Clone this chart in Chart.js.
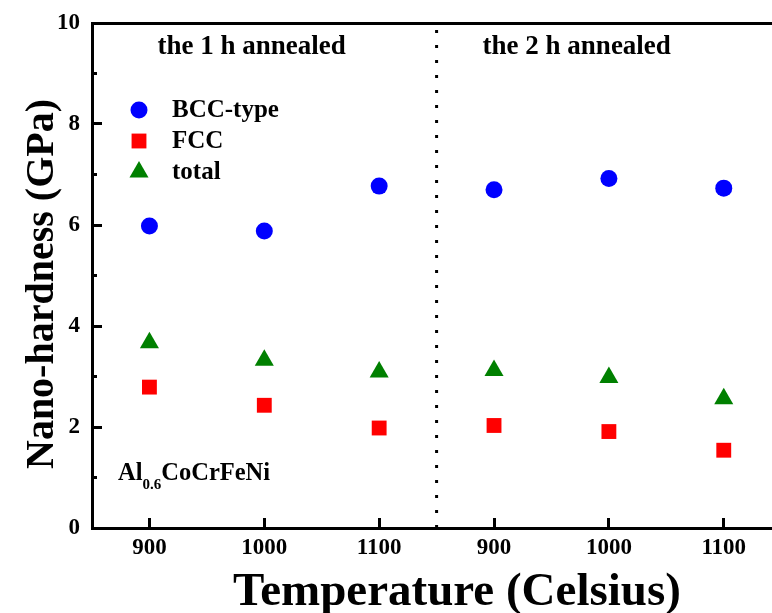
<!DOCTYPE html>
<html>
<head>
<meta charset="utf-8">
<title>Nano-hardness Al0.6CoCrFeNi</title>
<script src="https://cdn.jsdelivr.net/npm/chart.js@4.4.1/dist/chart.umd.min.js"></script>
<style>
  html, body { margin: 0; padding: 0; background: #fff; overflow: hidden; }
  #wrap { width: 772px; height: 613px; }
</style>
</head>
<body>
<div id="wrap"><canvas id="hardness" width="772" height="613"></canvas></div>
<script>
// --- Données ---
const temperatures = ['900', '1000', '1100', '900', '1000', '1100'];
const positions = [0, 1, 2, 3, 4, 5];
const bccValues = [5.98, 5.88, 6.77, 6.70, 6.92, 6.73];
const fccValues = [2.79, 2.43, 1.98, 2.03, 1.91, 1.54];
const totalValues = [3.67, 3.32, 3.09, 3.12, 2.98, 2.56];
const seriesNames = ['BCC-type', 'FCC', 'total'];
const groupLabels = ['the 1 h annealed', 'the 2 h annealed'];
const groupSplit = 2.5;

const SERIF = "'Liberation Serif', 'Times New Roman', Times, serif";

function toPoints(values) {
    return values.map((v, i) => ({ x: positions[i], y: v }));
}

// pas de marge automatique autour des axes : la zone de tracé reste fixe
function noPadding(s) {
    s.paddingLeft = 0;
    s.paddingRight = 0;
    s.paddingTop = 0;
    s.paddingBottom = 0;
}

// textes dessinés à la main : titres des groupes, légende, alliage, titres d'axes
const textPlugin = {
    id: 'textes',
    afterDraw(chart) {
        const { ctx, scales } = chart;
        const x = scales.x;
        ctx.save();
        ctx.fillStyle = '#000';

        // en-têtes des deux séries de recuit
        ctx.font = `bold 27px ${SERIF}`;
        ctx.textAlign = 'center';
        ctx.textBaseline = 'alphabetic';
        ctx.fillText(groupLabels[0], x.getPixelForValue(0.89), 54);
        ctx.fillText(groupLabels[1], x.getPixelForValue(3.72), 54);

        // légende
        const rows = [110, 141, 172];
        ctx.font = `bold 25px ${SERIF}`;
        ctx.textAlign = 'left';
        ctx.textBaseline = 'middle';
        chart.data.datasets.slice(0, 3).forEach((ds, i) => {
            ctx.fillStyle = ds.backgroundColor;
            Chart.helpers.drawPoint(ctx, {
                pointStyle: ds.pointStyle,
                radius: ds.pointRadius,
                rotation: 0,
                borderWidth: 0
            }, 139, rows[i]);
            ctx.fillStyle = '#000';
            ctx.fillText(ds.label, 172, rows[i] + 1);
        });

        // nom de l'alliage avec indice
        ctx.textBaseline = 'alphabetic';
        ctx.font = `bold 24.5px ${SERIF}`;
        let px = 118;
        ctx.fillText('Al', px, 480);
        px += ctx.measureText('Al').width;
        ctx.font = `bold 15px ${SERIF}`;
        ctx.fillText('0.6', px, 489);
        px += ctx.measureText('0.6').width;
        ctx.font = `bold 24.5px ${SERIF}`;
        ctx.fillText('CoCrFeNi', px, 480);

        // titres des axes
        ctx.textAlign = 'center';
        ctx.font = `bold 47px ${SERIF}`;
        ctx.fillText('Temperature (Celsius)', 457, 605);
        ctx.translate(53, 284);
        ctx.rotate(-Math.PI / 2);
        ctx.font = `bold 40px ${SERIF}`;
        ctx.fillText('Nano-hardness (GPa)', 0, 0);
        ctx.restore();
    }
};

const tickFont = { family: SERIF, size: 23, weight: 'bold' };

new Chart(document.getElementById('hardness'), {
    type: 'scatter',
    data: {
        datasets: [
            {
                label: seriesNames[0],
                data: toPoints(bccValues),
                pointStyle: 'circle',
                pointRadius: 8.5,
                backgroundColor: 'rgb(0, 0, 255)',
                borderWidth: 0
            },
            {
                label: seriesNames[1],
                data: toPoints(fccValues),
                pointStyle: 'rect',
                pointRadius: 10.5,
                backgroundColor: 'rgb(255, 0, 0)',
                borderWidth: 0
            },
            {
                label: seriesNames[2],
                data: toPoints(totalValues),
                pointStyle: 'triangle',
                pointRadius: 11,
                backgroundColor: 'rgb(0, 128, 0)',
                borderWidth: 0
            },
            {
                // séparation pointillée entre 1 h et 2 h
                label: 'split',
                data: [{ x: groupSplit, y: 0 }, { x: groupSplit, y: 10 }],
                showLine: true,
                pointRadius: 0,
                borderColor: '#000',
                borderWidth: 3,
                borderDash: [3, 12]
            }
        ]
    },
    options: {
        responsive: false,
        animation: false,
        devicePixelRatio: 1,
        layout: { autoPadding: false, padding: { top: 23, right: 0, left: 0, bottom: 0 } },
        plugins: {
            legend: { display: false },
            tooltip: { enabled: false }
        },
        scales: {
            x: {
                type: 'linear',
                position: 'bottom',
                min: -0.5,
                max: 5.42,
                afterBuildTicks: s => { s.ticks = positions.map(v => ({ value: v })); },
                afterFit: s => { s.height = 85; noPadding(s); },
                ticks: {
                    color: '#000',
                    font: tickFont,
                    padding: 16,
                    maxRotation: 0,
                    callback: v => temperatures[Math.round(v)]
                },
                grid: { display: true, drawOnChartArea: false, tickLength: -10, tickWidth: 3, tickColor: '#000' },
                border: { display: true, width: 3, color: '#000' }
            },
            xTop: {
                type: 'linear',
                position: 'top',
                min: -0.5,
                max: 5.42,
                afterFit: s => { s.height = 0; noPadding(s); },
                ticks: { display: false },
                grid: { display: false, drawTicks: false },
                border: { display: true, width: 3, color: '#000' }
            },
            y: {
                position: 'left',
                min: 0,
                max: 10,
                weight: 1,
                afterFit: s => { s.width = 92; noPadding(s); },
                ticks: { stepSize: 2, color: '#000', font: tickFont, padding: 22 },
                grid: { display: true, drawOnChartArea: false, tickLength: -10, tickWidth: 3, tickColor: '#000' },
                border: { display: true, width: 3, color: '#000' }
            },
            yMinor: {
                position: 'left',
                min: 0,
                max: 10,
                weight: 0,
                afterFit: s => { s.width = 0; noPadding(s); },
                ticks: { display: false, stepSize: 1 },
                grid: { display: true, drawOnChartArea: false, tickLength: -5, tickWidth: 3, tickColor: '#000' },
                border: { display: false }
            }
        }
    },
    plugins: [textPlugin]
});
</script>
</body>
</html>
